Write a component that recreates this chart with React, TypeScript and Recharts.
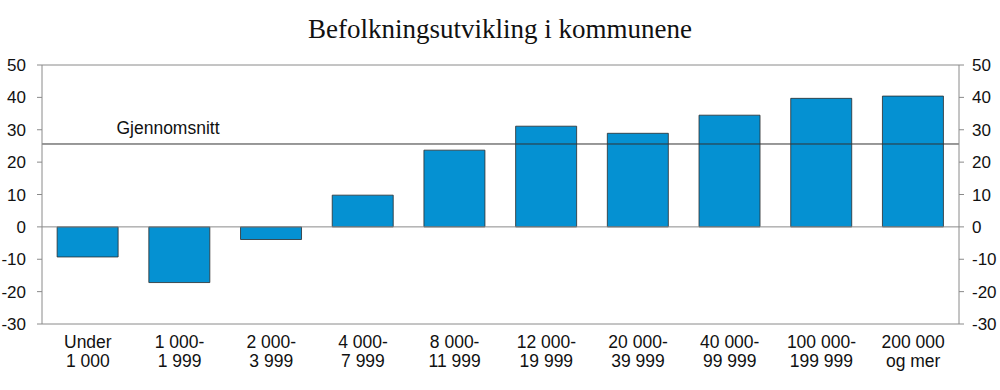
import React from 'react';
import { BarChart, Bar, XAxis, YAxis, ReferenceLine } from 'recharts';

const categories = [
  'Under\n1 000',
  '1 000-\n1 999',
  '2 000-\n3 999',
  '4 000-\n7 999',
  '8 000-\n11 999',
  '12 000-\n19 999',
  '20 000-\n39 999',
  '40 000-\n99 999',
  '100 000-\n199 999',
  '200 000\nog mer',
];
const growth = [-9.3, -17.2, -3.9, 9.8, 23.7, 31.1, 28.9, 34.5, 39.7, 40.4];
const average = 25.6;
const yTicks = [-30, -20, -10, 0, 10, 20, 30, 40, 50];
const title = 'Befolkningsutvikling i kommunene';
const averageLabel = 'Gjennomsnitt';

const data = categories.map((c, i) => ({ name: c, value: growth[i] }));

const FONT = 'Liberation Sans, Arial, Helvetica, sans-serif';
const AXIS = '#8a8a8a';

const XTick = (props: any) => {
  const { x, y, payload } = props;
  const lines = String(payload.value).split('\n');
  return (
    <g>
      {lines.map((l: string, i: number) => (
        <text key={i} x={x} y={y + 16 + i * 18.5} textAnchor="middle" fontFamily={FONT} fontSize={17.5} fill="#111">
          {l}
        </text>
      ))}
    </g>
  );
};

const AvgLabel = (props: any) => {
  const vb = props.viewBox || {};
  return (
    <text x={(vb.x || 0) + 126} y={(vb.y || 0) - 10} textAnchor="middle" fontFamily={FONT} fontSize={17.5} fill="#111">
      {averageLabel}
    </text>
  );
};

export default function App() {
  return (
    <div style={{ position: 'absolute', left: 0, top: 0, width: 1000, height: 390, background: '#fff' }}>
      <div
        style={{
          position: 'absolute',
          left: 0,
          top: 12,
          width: 1000,
          textAlign: 'center',
          fontFamily: 'Liberation Serif, Times New Roman, serif',
          fontSize: 27,
          color: '#111',
          lineHeight: '34px',
        }}
      >
        {title}
      </div>
      <BarChart
        width={1000}
        height={390}
        data={data}
        margin={{ top: 65, right: 0, bottom: 0, left: 0 }}
        barCategoryGap="16.5%"
      >
        <XAxis
          dataKey="name"
          height={66}
          axisLine={{ stroke: AXIS }}
          tickLine={false}
          tick={<XTick />}
          interval={0}
        />
        <YAxis
          yAxisId="left"
          orientation="left"
          width={42}
          domain={[-30, 50]}
          ticks={yTicks}
          axisLine={{ stroke: AXIS }}
          tickLine={{ stroke: AXIS }}
          tickSize={5}
          tickMargin={11}
          tick={{ fontFamily: FONT, fontSize: 17, fill: '#111' }}
          allowDataOverflow
        />
        <YAxis
          yAxisId="right"
          orientation="right"
          width={41}
          domain={[-30, 50]}
          ticks={yTicks}
          axisLine={{ stroke: AXIS }}
          tickLine={{ stroke: AXIS }}
          tickSize={5}
          tickMargin={8}
          tick={{ fontFamily: FONT, fontSize: 17, fill: '#111', textAnchor: 'start' }}
          allowDataOverflow
        />
        <ReferenceLine yAxisId="left" y={50} stroke={AXIS} strokeWidth={1} />
        <Bar
          yAxisId="left"
          dataKey="value"
          fill="#0591D2"
          stroke="#2b2b2b"
          strokeWidth={0.8}
          isAnimationActive={false}
        />
        <ReferenceLine yAxisId="left" y={0} stroke={AXIS} strokeWidth={1} />
        <ReferenceLine yAxisId="left" y={average} stroke="#333" strokeWidth={1} label={<AvgLabel />} />
      </BarChart>
    </div>
  );
}
